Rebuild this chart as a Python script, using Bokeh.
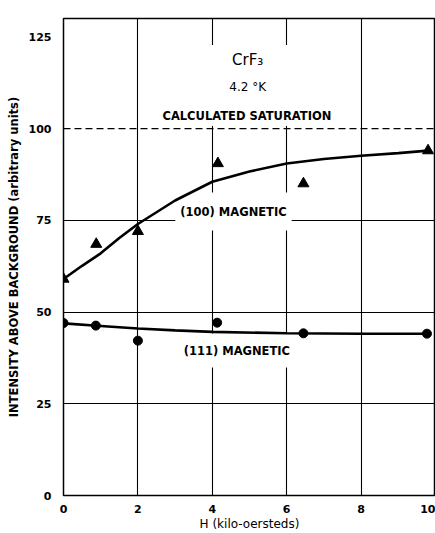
from bokeh.plotting import figure
from bokeh.models import Label, Span, BoxAnnotation, Range1d
from bokeh.embed import file_html
from bokeh.resources import INLINE

# ---- data ----
tri_x = [0.0, 0.88, 2.0, 4.15, 6.45, 9.8]
tri_y = [59.0, 68.5, 72.0, 90.5, 85.0, 94.0]

circ_x = [0.0, 0.87, 2.0, 4.13, 6.45, 9.77]
circ_y = [47.0, 46.3, 42.2, 47.1, 44.2, 44.1]

fit100_x = [0.0, 0.5, 1.0, 1.5, 2.0, 3.0, 4.0, 5.0, 6.0, 7.0, 8.0, 9.0, 9.8]
fit100_y = [59.0, 62.6, 66.0, 70.2, 74.0, 80.4, 85.5, 88.3, 90.5, 91.7, 92.6, 93.3, 94.0]

fit111_x = [0.0, 1.0, 2.0, 3.0, 4.0, 6.0, 8.0, 9.8]
fit111_y = [46.9, 46.2, 45.5, 45.0, 44.6, 44.2, 44.1, 44.1]

saturation = 100
x_ticks = [0, 2, 4, 6, 8, 10]
y_ticks = [0, 25, 50, 75, 100, 125]
x_grid = [2, 4, 6, 8]
y_grid = [25, 50, 75]

FONT = "DejaVu Sans"

p = figure(width=435, height=533, output_backend="svg", toolbar_location=None,
           x_range=Range1d(0, 10), y_range=Range1d(0, 130),
           min_border_left=63, min_border_right=0, min_border_top=18,
           min_border_bottom=38)
p.background_fill_color = "white"
p.border_fill_color = "white"
p.outline_line_color = "black"
p.outline_line_width = 1.5

# grids
p.xgrid.ticker = x_grid
p.ygrid.ticker = y_grid
for g in (p.xgrid, p.ygrid):
    g.grid_line_color = "black"
    g.grid_line_width = 1.1
    g.grid_line_alpha = 1.0

# axes
p.xaxis.ticker = x_ticks
p.yaxis.ticker = y_ticks
for ax in (p.xaxis, p.yaxis):
    ax.axis_line_color = None
    ax.major_tick_line_color = None
    ax.minor_tick_line_color = None
    ax.major_label_text_font = FONT
    ax.major_label_text_font_style = "bold"
    ax.major_label_text_font_size = "11px"
    ax.major_label_text_color = "black"
    ax.axis_label_text_color = "black"
    ax.axis_label_text_font = FONT
p.xaxis.major_label_standoff = 3
p.yaxis.major_label_standoff = 6
p.yaxis.axis_label = "INTENSITY ABOVE BACKGROUND (arbitrary units)"
p.yaxis.axis_label_text_font_style = "bold"
p.yaxis.axis_label_text_font_size = "11.5px"
p.yaxis.axis_label_standoff = 5
p.xaxis.axis_label = "H (kilo-oersteds)"
p.xaxis.axis_label_text_font_style = "normal"
p.xaxis.axis_label_text_font_size = "12px"
p.xaxis.axis_label_standoff = 1

# white mask behind the title block (under the glyphs, over the grid)
p.add_layout(BoxAnnotation(left=3.75, right=6.25, bottom=100.8, top=122.8,
                           fill_color="white", fill_alpha=1.0, line_color=None,
                           level="underlay"))

# saturation dashed line
p.add_layout(Span(location=saturation, dimension="width", line_color="black",
                  line_width=1.4, line_dash="7 4"))

# fitted curves
p.line(fit100_x, fit100_y, line_color="black", line_width=2.6)
p.line(fit111_x, fit111_y, line_color="black", line_width=2.6)

# points
p.scatter(tri_x, tri_y, marker="triangle", size=11, fill_color="black",
          line_color="black")
p.scatter(circ_x, circ_y, marker="circle", size=9, fill_color="black",
          line_color="black")

# texts
def lab(x, y, text, size, style="normal", bg=False, pad=0):
    kw = {}
    if bg:
        kw = dict(background_fill_color="white", background_fill_alpha=1.0,
                  padding=pad)
    l = Label(x=x, y=y, text=text, text_font=FONT, text_font_size=size,
              text_font_style=style, text_align="center", text_baseline="middle",
              text_color="black", level="underlay", **kw)
    p.add_layout(l)

lab(4.95, 118.8, "CrF₃", "15px")
lab(4.95, 111.4, "4.2 °K", "12px")
lab(4.93, 103.5, "CALCULATED SATURATION", "11.5px", "bold", bg=True, pad=3)
lab(4.57, 77.4, "(100) MAGNETIC", "11.5px", "bold", bg=True, pad=(5, 12))
lab(4.66, 39.5, "(111) MAGNETIC", "11.5px", "bold", bg=True, pad=(5, 10))

open("out.html", "w").write(file_html(p, INLINE))
